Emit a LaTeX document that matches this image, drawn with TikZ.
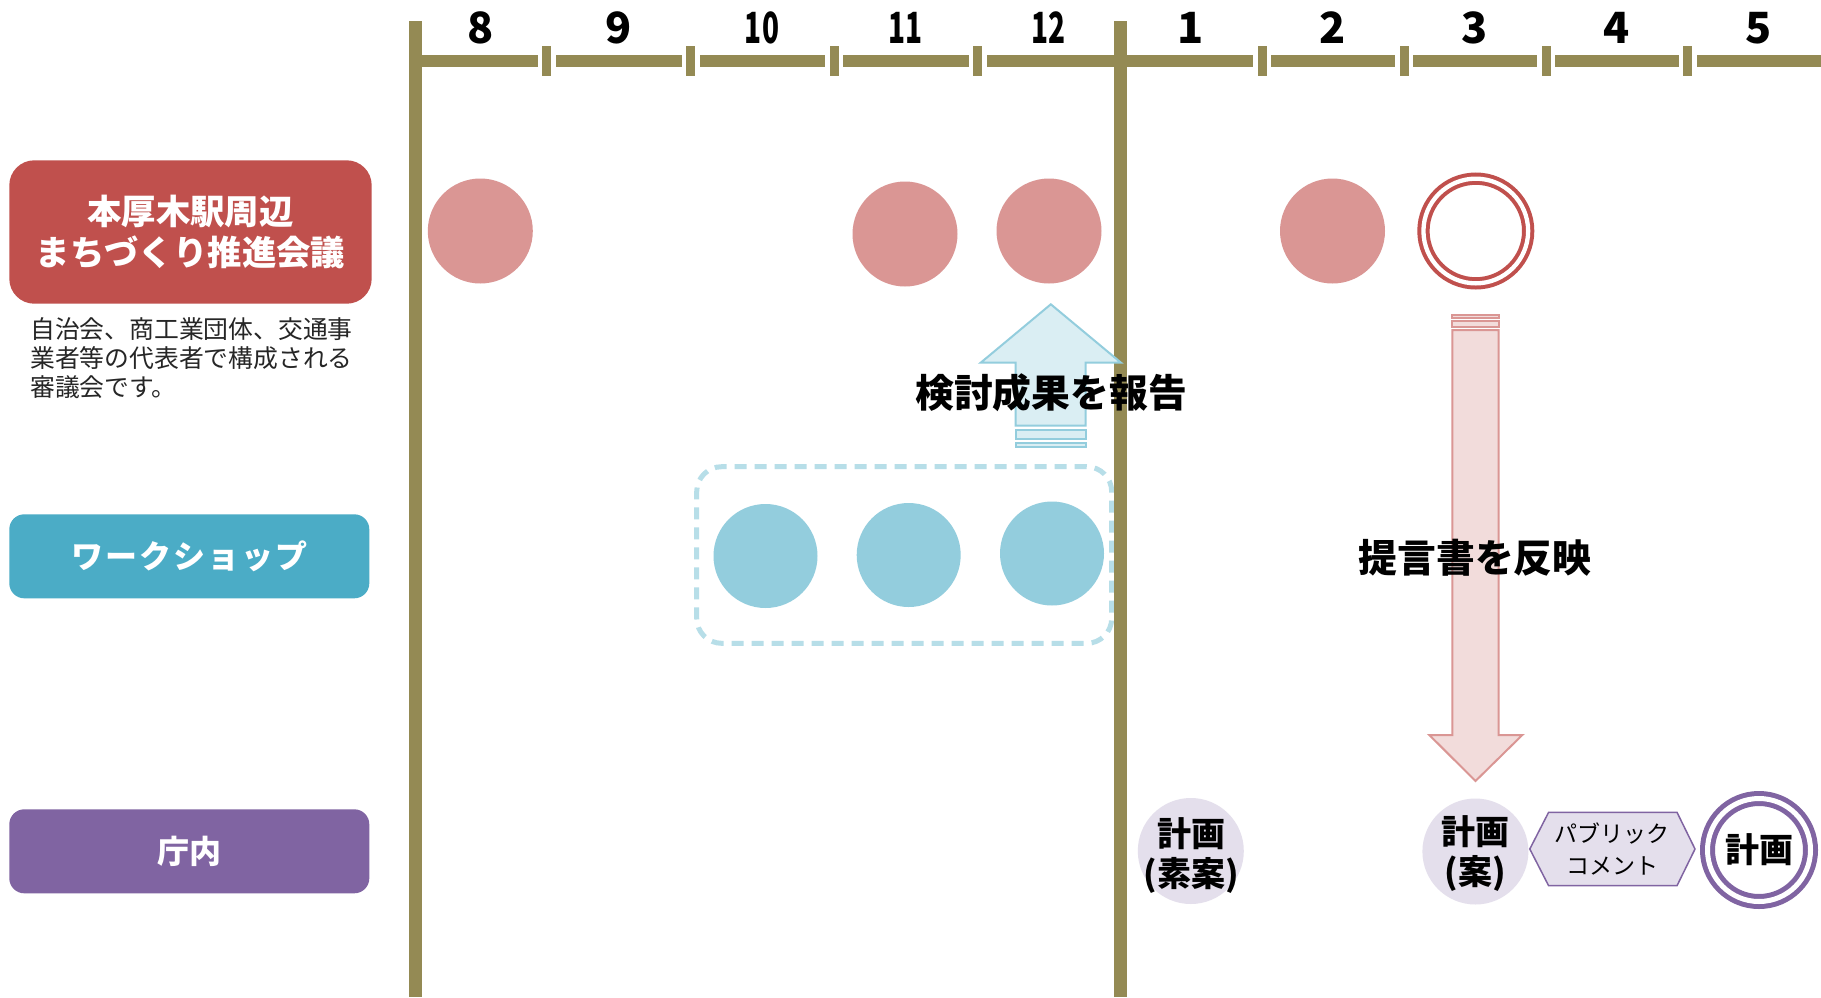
\documentclass[tikz,border=0pt]{standalone}
\usepackage{fontspec}
\setmainfont{Noto Sans CJK JP}
\definecolor{tanbar}{HTML}{948A54}
\definecolor{redbox}{HTML}{C0504D}
\definecolor{bluebox}{HTML}{4BACC6}
\definecolor{purplebox}{HTML}{8064A2}
\definecolor{redcirc}{HTML}{DA9694}
\definecolor{bluecirc}{HTML}{93CDDD}
\definecolor{dashblue}{HTML}{B7DEE8}
\definecolor{upfill}{HTML}{DAEEF3}
\definecolor{upline}{HTML}{93CDDD}
\definecolor{downfill}{HTML}{F2DCDB}
\definecolor{downline}{HTML}{DA9694}
\definecolor{lavender}{HTML}{E4DFEC}
\begin{document}
\begin{tikzpicture}[x=0.5pt,y=-0.5pt,
  rowbox/.style={rectangle, rounded corners=7.5pt, minimum width=180pt, minimum height=42pt, inner sep=0pt, text=white, font=\fontsize{16pt}{19pt}\selectfont\bfseries},
  month/.style={inner sep=0pt, font=\fontsize{21.5pt}{24pt}\selectfont\bfseries},
  redmeet/.style={circle, fill=redcirc, minimum size=52.5pt, inner sep=0pt},
  bluemeet/.style={circle, fill=bluecirc, minimum size=52pt, inner sep=0pt},
  plannode/.style={circle, fill=lavender, minimum size=53pt, inner sep=0pt},
  plantext/.style={inner sep=0pt, align=center, font=\fontsize{17pt}{20pt}\selectfont\bfseries},
  biglabel/.style={inner sep=0pt, font=\fontsize{19.4pt}{22pt}\selectfont\bfseries},
  tick/.style={fill=tanbar},
]
\useasboundingbox (0,0) rectangle (1821,997);
\fill[white] (0,0) rectangle (1821,997);

% left row labels
\node[rowbox, fill=redbox, minimum width=181.2pt, minimum height=71.7pt, rounded corners=12.5pt, align=center, font=\fontsize{17.2pt}{20.5pt}\selectfont\bfseries] (council) at (190.5,232) {本厚木駅周辺\\まちづくり推進会議};
\node[anchor=north west, inner sep=0pt, align=left, font=\fontsize{12.4pt}{14.6pt}\selectfont, text=black!85] (desc) at (30,317) {自治会、商工業団体、交通事\\業者等の代表者で構成される\\審議会です。};
\node[rowbox, fill=bluebox] (ws) at (189.3,556.3) {\addfontfeature{LetterSpace=6}ワークショップ};
\node[rowbox, fill=purplebox] (office) at (189.3,851.3) {庁内};

% dashed workshop group
\node[draw=dashblue, line width=2.5pt, dash pattern=on 6pt off 4pt, rounded corners=12.5pt, minimum width=207.5pt, minimum height=88.3pt, inner sep=0pt] (group) at (904.2,555) {};

% workshop meetings
\node[bluemeet] (w1) at (765.5,556) {};
\node[bluemeet] (w2) at (908.7,555) {};
\node[bluemeet] (w3) at (1052,553.5) {};

% timeline bars
\fill[tanbar] (408.6,21) rectangle (421.5,997);
\fill[tanbar] (1113.6,21) rectangle (1127,997);
\fill[tanbar] (415,55) rectangle (1821,66.5);
\foreach \tx in {546.5,690.5,834,977.5,1262,1404,1546,1687.6}{
  \fill[white] (\tx-9,55) rectangle (\tx+9,66.5);
  \fill[tick] (\tx-4.5,46) rectangle (\tx+4.5,76);
}

% month labels
\node[month] (m8) at (480.5,28) {8};
\node[month] (m9) at (618.5,28) {9};
\node[month] (m10) at (762,28) {\scalebox{0.65}[1]{10}};
\node[month] (m11) at (905.7,28) {\scalebox{0.65}[1]{11}};
\node[month] (m12) at (1048.7,28) {\scalebox{0.65}[1]{12}};
\node[month] (m1) at (1191,28) {1};
\node[month] (m2) at (1333,28) {2};
\node[month] (m3) at (1475,28) {3};
\node[month] (m4) at (1617,28) {4};
\node[month] (m5) at (1759,28) {5};

% council meetings
\node[redmeet] (c1) at (480.3,231) {};
\node[redmeet] (c2) at (905,234) {};
\node[redmeet] (c3) at (1049,231) {};
\node[redmeet] (c4) at (1332.5,231) {};
\node[circle, draw=redbox, line width=2pt, double=white, double distance=2.15pt, minimum size=52.35pt, inner sep=0pt] (c5) at (1475.8,231) {};

% up arrow (report)
\draw[draw=upline, fill=upfill, line width=1pt] (1015.7,425.7) -- (1015.7,362.7) -- (980.7,362.7) -- (1050.8,304.3) -- (1121,362.7) -- (1085.7,362.7) -- (1085.7,425.7) -- cycle;
\draw[draw=upline, fill=upfill, line width=1pt] (1015.7,430) rectangle (1085.7,438.7);
\draw[draw=upline, fill=upfill, line width=1pt] (1015.7,442.7) rectangle (1085.7,447.3);

% down arrow (proposal)
\draw[draw=downline, fill=downfill, line width=1pt] (1452.3,330) -- (1498.7,330) -- (1498.7,735) -- (1522.3,735) -- (1475.5,781) -- (1429.3,735) -- (1452.3,735) -- cycle;
\draw[draw=downline, fill=downfill, line width=1pt] (1452.3,315) rectangle (1498.7,318.3);
\draw[draw=downline, fill=downfill, line width=1pt] (1452.3,321) rectangle (1498.7,327.3);

\node[biglabel] (report) at (1051,392.5) {検討成果を報告};
\node[biglabel] (reflect) at (1475,557.5) {提言書を反映};

% office row
\node[plannode] (p1) at (1190.8,851) {};
\node[plantext] (p1t) at (1191,856) {計画\\(素案)};
\node[plannode] (p2) at (1475.4,851.5) {};
\node[plantext] (p2t) at (1475.4,854) {計画\\(案)};
\fill[lavender, draw=purplebox, line width=0.75pt] (1529.8,849) -- (1548.6,812.3) -- (1677,812.3) -- (1695,849) -- (1677,885.7) -- (1548.6,885.7) -- cycle;
\node[inner sep=0pt, align=center, font=\fontsize{11.5pt}{16pt}\selectfont] (pc) at (1612.4,849) {パブリック\\コメント};
\node[circle, draw=purplebox, line width=2.5pt, double=white, double distance=2.5pt, minimum size=51.5pt, inner sep=0pt, font=\fontsize{17pt}{20pt}\selectfont\bfseries] (p3) at (1759,850) {計画};
\end{tikzpicture}
\end{document}
